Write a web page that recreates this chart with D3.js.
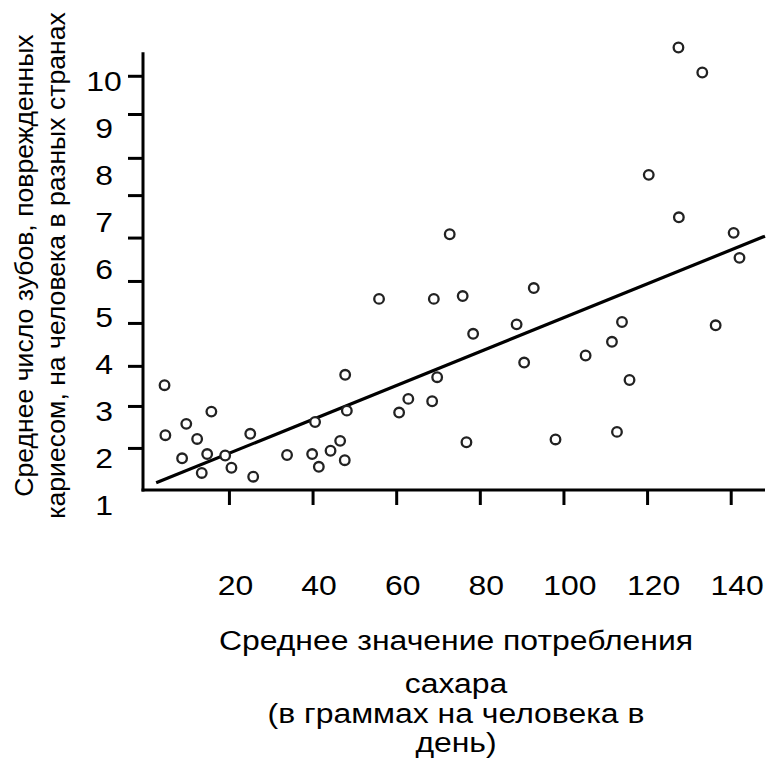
<!DOCTYPE html>
<html>
<head>
<meta charset="utf-8">
<script src="https://cdn.jsdelivr.net/npm/d3@7"></script>
<style>
  html, body { margin: 0; padding: 0; background: #fff; }
  svg { display: block; font-family: "Liberation Sans", Arial, sans-serif; }
</style>
</head>
<body>
<div id="container"></div>
<script>
// 数据：各国平均糖摄入量（克/人/天）与平均龋齿数
const sugar = [4.6, 4.8, 9.8, 15.8, 12.4, 8.8, 14.8, 13.5, 19.1, 20.6, 25.1, 25.8, 33.9, 39.9, 40.6, 41.5,
  44.3, 46.6, 47.7, 48.2, 47.8, 72.8, 55.9, 69.0, 75.9, 92.9, 78.4, 88.8, 90.6, 69.8, 62.9, 68.6, 60.7,
  76.8, 98.1, 114.0, 136.4, 111.6, 105.3, 115.8, 112.8, 127.5, 133.2, 120.4, 127.6, 140.7, 142.1];
const teeth = [3.54, 2.48, 2.72, 2.98, 2.40, 1.99, 2.08, 1.68, 2.05, 1.79, 2.51, 1.60, 2.06, 2.08, 2.76, 1.81,
  2.15, 2.36, 1.95, 3.00, 3.76, 6.74, 5.37, 5.37, 5.43, 5.60, 4.63, 4.83, 4.02, 3.71, 3.25, 3.20, 2.96,
  2.33, 2.39, 4.88, 4.81, 4.46, 4.17, 3.65, 2.55, 10.70, 10.17, 8.00, 7.10, 6.77, 6.24];

// 回归直线的两个端点
const trendX = [2.6, 148.2];
const trendY = [1.47, 6.70];

// 刻度
const xTicks = [20, 40, 60, 80, 100, 120, 140];
const yLabels = [1, 2, 3, 4, 5, 6, 7, 8, 9, 10];
const yTickMarks = [2.21, 3.10, 3.95, 4.86, 5.75, 6.67, 7.57, 8.36, 9.29, 10.10];

const xTitle = ["Среднее значение потребления", "сахара", "(в граммах на человека в", "день)"];
const yTitle = ["Среднее число зубов, поврежденных", "кариесом, на человека в разных странах"];

const width = 767;
const height = 760;
const fontSize = 28;
const stretch = 1.14; // 原图文字略宽

const svg = d3.select("#container")
  .append("svg")
  .attr("width", width)
  .attr("height", height);

// 比例尺
const x = d3.scaleLinear().domain([-0.55, 148.2]).range([143, 765]);
const y = d3.scaleLinear().domain([1, 10]).range([505, 80.5]);
const axisY = 490; // x 轴所在位置
const yTop = 10.6;

// y 轴：刻度线
svg.append("g")
  .attr("transform", `translate(${x(-0.55)},0)`)
  .call(d3.axisLeft(y).tickValues(yTickMarks).tickSize(15).tickFormat(""))
  .call(g => g.select(".domain").remove())
  .call(g => g.selectAll(".tick line").attr("stroke", "#000").attr("stroke-width", 3));

// y 轴：轴线
svg.append("line")
  .attr("x1", x(-0.55)).attr("x2", x(-0.55))
  .attr("y1", y(yTop)).attr("y2", axisY + 1.5)
  .attr("stroke", "#000").attr("stroke-width", 3);

// y 轴：刻度文字（与刻度线不对齐，单独绘制）
svg.append("g")
  .attr("transform", `translate(${x(-0.55)},0)`)
  .call(d3.axisLeft(y).tickValues(yLabels).tickSize(0).tickFormat(d3.format("d")))
  .call(g => g.select(".domain").remove())
  .call(g => g.selectAll(".tick text")
    .attr("x", 0)
    .attr("dy", "0.35em")
    .attr("text-anchor", "middle")
    .attr("font-size", fontSize)
    .attr("fill", "#000")
    .attr("transform", `translate(-39,0) scale(${stretch},1)`));

// x 轴
svg.append("g")
  .attr("transform", `translate(0,${axisY})`)
  .call(d3.axisBottom(x).tickValues(xTicks).tickSize(15).tickSizeOuter(0))
  .call(g => g.select(".domain").remove())
  .call(g => g.selectAll(".tick line").attr("stroke", "#000").attr("stroke-width", 3))
  .call(g => g.selectAll(".tick text")
    .attr("y", 0)
    .attr("dy", 0)
    .attr("font-size", fontSize)
    .attr("fill", "#000")
    .attr("transform", `translate(6,105) scale(${stretch},1)`));

svg.append("line")
  .attr("x1", x(-0.55) - 1.5).attr("x2", x(148.2))
  .attr("y1", axisY).attr("y2", axisY)
  .attr("stroke", "#000").attr("stroke-width", 3);

// 回归直线
svg.append("line")
  .attr("x1", x(trendX[0])).attr("y1", y(trendY[0]))
  .attr("x2", x(trendX[1])).attr("y2", y(trendY[1]))
  .attr("stroke", "#000").attr("stroke-width", 3.2);

// 数据点
svg.append("g")
  .selectAll("circle")
  .data(d3.range(sugar.length))
  .join("circle")
  .attr("cx", i => x(sugar[i]))
  .attr("cy", i => y(teeth[i]))
  .attr("r", 4.8)
  .attr("fill", "#fff")
  .attr("stroke", "#222")
  .attr("stroke-width", 2.3);

// x 轴标题
const xTitleBase = [650, 693, 723, 752];
svg.append("g")
  .selectAll("text")
  .data(xTitle)
  .join("text")
  .attr("text-anchor", "middle")
  .attr("font-size", fontSize)
  .attr("transform", (d, i) => `translate(456,${xTitleBase[i]}) scale(${stretch},1)`)
  .text(d => d);

// y 轴标题
const yTitleBase = [33, 65];
svg.append("g")
  .selectAll("text")
  .data(yTitle)
  .join("text")
  .attr("text-anchor", "middle")
  .attr("font-size", 26.6)
  .attr("transform", (d, i) => `translate(${yTitleBase[i]},265.5) rotate(-90)`)
  .text(d => d);
</script>
</body>
</html>
